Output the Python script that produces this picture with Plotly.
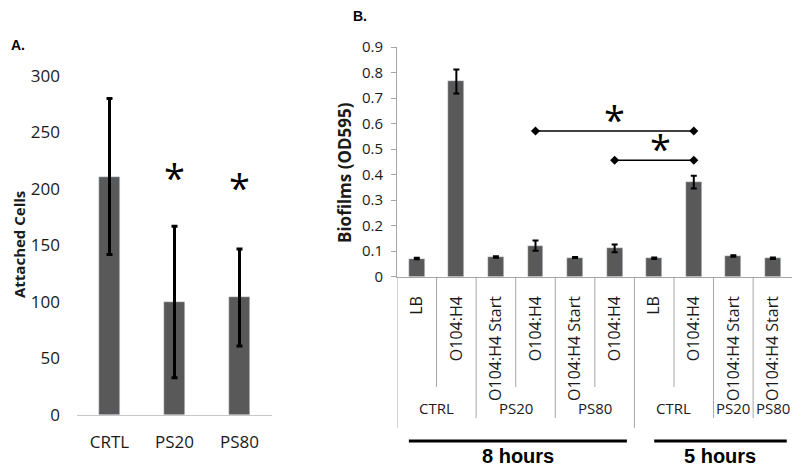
import plotly.graph_objects as go

# ---------------- Data ----------------
# Panel A
a_categories = ["CRTL", "PS20", "PS80"]
a_values = [211, 100, 104]
a_errors = [69, 67, 43]
a_star_cats = ["PS20", "PS80"]
a_star_y = [215, 206]

# Panel B
b_conditions = ["LB", "O104:H4", "O104:H4 Start", "O104:H4", "O104:H4 Start",
                "O104:H4", "LB", "O104:H4", "O104:H4 Start", "O104:H4 Start"]
b_values = [0.071, 0.765, 0.077, 0.122, 0.075, 0.111, 0.072, 0.371, 0.081, 0.072]
b_errors = [0.003, 0.047, 0.003, 0.020, 0.002, 0.015, 0.003, 0.025, 0.003, 0.003]
b_groups = ["CTRL", "PS20", "PS80", "CTRL", "PS20", "PS80"]
b_group_sizes = [2, 2, 2, 2, 1, 1]
b_times = ["8 hours", "5 hours"]
b_time_sizes = [6, 4]
# significance brackets: (from index, to index, y level, star y)
b_sig = [(3, 7, 0.571, 0.638), (5, 7, 0.456, 0.525)]

BAR = "#595959"
GRID = "#a6a6a6"
TXT = "#1a1a1a"
FONT = "Open Sans"
H = 470.0
W = 800.0
OFF = 8.0  # page body margin


def fx(px):
    return (px - OFF) / W


def fy(py):
    return (H - (py - OFF)) / H


fig = go.Figure()

# Panel A bars
fig.add_trace(go.Bar(
    x=a_categories, y=a_values, width=0.31, marker_color=BAR,
    error_y=dict(type="data", array=a_errors, color="black", thickness=3, width=3),
    xaxis="x", yaxis="y", showlegend=False))

# Panel B bars
b_x = list(range(len(b_conditions)))
fig.add_trace(go.Bar(
    x=b_x, y=b_values, width=0.4, marker_color=BAR,
    error_y=dict(type="data", array=b_errors, color="black", thickness=2, width=3),
    xaxis="x2", yaxis="y2", showlegend=False))

# significance brackets
for (i0, i1, yl, ys) in b_sig:
    fig.add_trace(go.Scatter(
        x=[i0, i1], y=[yl, yl], mode="lines+markers",
        line=dict(color="black", width=1.5),
        marker=dict(symbol="diamond", size=7, color="black"),
        xaxis="x2", yaxis="y2", showlegend=False, hoverinfo="skip"))

annotations = []
shapes = []

# stars panel A
for c, yv in zip(a_star_cats, a_star_y):
    annotations.append(dict(x=c, y=yv, xref="x", yref="y", text="*", showarrow=False,
                            font=dict(family=FONT, size=38, color="black"),
                            xanchor="center", yanchor="middle", yshift=-5))
# stars panel B
for (i0, i1, yl, ys) in b_sig:
    xs = (i0 + i1) / 2 if i1 - i0 > 2 else (i0 + i1) / 2 + 0.15
    annotations.append(dict(x=xs, y=ys, xref="x2", yref="y2", text="*", showarrow=False,
                            font=dict(family=FONT, size=38, color="black"),
                            xanchor="center", yanchor="middle", yshift=-5))


def paper_text(px, py, text, size, family=FONT, angle=0, color=TXT):
    annotations.append(dict(x=fx(px), y=fy(py), xref="paper", yref="paper",
                            text=text, textangle=angle, showarrow=False,
                            xanchor="center", yanchor="middle",
                            font=dict(family=family, size=size, color=color)))


paper_text(19, 245, "<b>Attached Cells</b>", 15, angle=-90)
paper_text(344, 173, "<b>Biofilms (OD595)</b>", 17, angle=-90)
paper_text(18, 45, "<b>A.</b>", 14, family="Liberation Sans", color="black")
paper_text(360, 16, "<b>B.</b>", 14, family="Liberation Sans", color="black")

# Panel B multi-level dividers
y_axis_b = fy(276.7)
inner_bottom = fy(387)
group_bottom = fy(418)
outer_bottom = fy(428)

group_bounds = []
pos = 0
for s in b_group_sizes:
    group_bounds.append(pos)
    pos += s
time_bounds = []
pos = 0
for s in b_time_sizes:
    time_bounds.append(pos)
    pos += s
time_bounds.append(pos)

n = len(b_conditions)
for k in range(n + 1):
    xb = k - 0.5
    if k in time_bounds:
        yb = outer_bottom
    elif k in group_bounds:
        yb = group_bottom
    else:
        yb = inner_bottom
    shapes.append(dict(type="line", xref="x2", yref="paper", x0=xb, x1=xb,
                       y0=y_axis_b, y1=yb, line=dict(color=GRID, width=1)))

# group labels
pos = 0
for g, s in zip(b_groups, b_group_sizes):
    annotations.append(dict(x=pos + (s - 1) / 2, y=fy(408), xref="x2", yref="paper",
                            text=g, showarrow=False, xanchor="center", yanchor="middle",
                            font=dict(family=FONT, size=15, color=TXT)))
    pos += s

# time labels with thick lines
pos = 0
for t, s in zip(b_times, b_time_sizes):
    x0 = pos - 0.2 if pos == 0 else pos
    x1 = pos + s - 0.69 if pos == 0 else pos + s - 0.65
    shapes.append(dict(type="line", xref="x2", yref="paper", x0=x0, x1=x1,
                       y0=fy(441), y1=fy(441),
                       line=dict(color="black", width=3)))
    annotations.append(dict(x=(x0 + x1) / 2, y=fy(456), xref="x2", yref="paper",
                            text="<b>%s</b>" % t, showarrow=False,
                            xanchor="center", yanchor="middle",
                            font=dict(family="Liberation Sans", size=20, color="black")))
    pos += s

fig.update_layout(
    width=800, height=470,
    margin=dict(l=0, r=0, t=0, b=0),
    paper_bgcolor="white", plot_bgcolor="white",
    bargap=0,
    xaxis=dict(domain=[fx(77), fx(272)], type="category", range=[-0.5, 2.5],
               showline=True, linecolor="#c8c8c8", linewidth=1, ticks="",
               tickfont=dict(family=FONT, size=17, color=TXT), ticklabelstandoff=12,
               showgrid=False, zeroline=False, anchor="y", automargin=False),
    yaxis=dict(domain=[fy(415), fy(76)], range=[0, 300], dtick=50,
               showline=False, ticks="", showgrid=False, zeroline=False,
               tickfont=dict(family=FONT, size=17, color=TXT), ticklabelstandoff=16,
               anchor="x", automargin=False),
    xaxis2=dict(domain=[fx(397), fx(792.7)], range=[-0.5, 9.5],
                tickvals=b_x, ticktext=b_conditions, tickangle=-90,
                showline=True, linecolor=GRID, linewidth=1, ticks="",
                tickfont=dict(family=FONT, size=16, color=TXT), ticklabelstandoff=12,
                showgrid=False, zeroline=False, anchor="y2", automargin=False),
    yaxis2=dict(domain=[y_axis_b, fy(47)], range=[0, 0.9], dtick=0.1,
                showline=True, linecolor=GRID, linewidth=1, ticks="outside",
                ticklen=5, tickcolor=GRID, showgrid=False, zeroline=False,
                tickfont=dict(family=FONT, size=15, color=TXT), ticklabelstandoff=5,
                anchor="x2", automargin=False),
    annotations=annotations, shapes=shapes,
)

fig.write_html("out.html")
